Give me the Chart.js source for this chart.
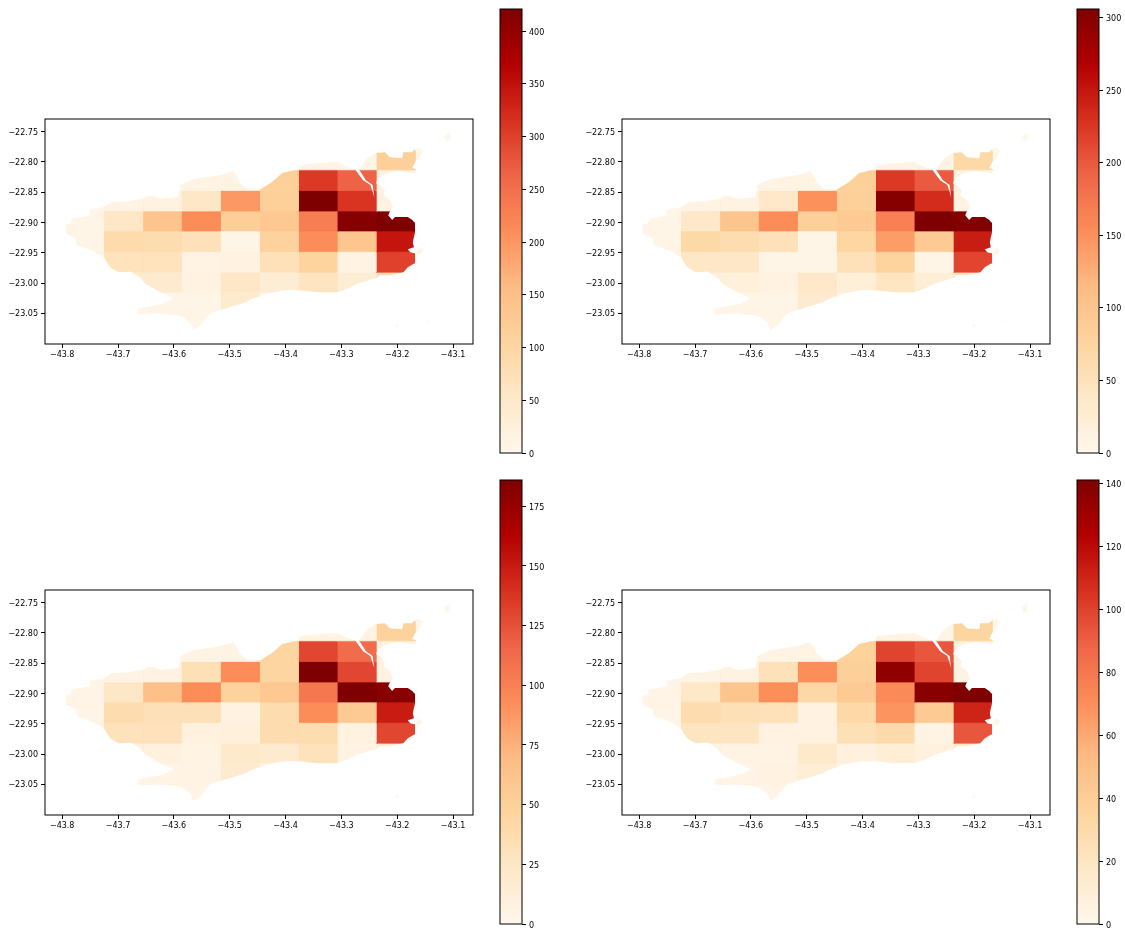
<!DOCTYPE html>
<html>
<head>
<meta charset="utf-8">
<script src="https://cdn.jsdelivr.net/npm/chart.js@4/dist/chart.umd.min.js"></script>
<style>
  body { margin: 0; background: #fff; }
  canvas { position: absolute; }
  .box { position: absolute; }
</style>
</head>
<body>
<script>
// grid cell edges, degrees
var cellLon = [-43.796, -43.726, -43.656, -43.587, -43.517, -43.447, -43.377, -43.308, -43.238, -43.168, -43.098];
var cellLat = [-22.746, -22.780, -22.813, -22.847, -22.881, -22.914, -22.948, -22.982, -23.015, -23.049, -23.083];

var xTicks = [-43.8, -43.7, -43.6, -43.5, -43.4, -43.3, -43.2, -43.1];
var yTicks = [-22.75, -22.80, -22.85, -22.90, -22.95, -23.00, -23.05];

// city outline
var landLon = [-43.794,-43.785,-43.782,-43.764,-43.751,-43.751,-43.728,-43.710,-43.683,-43.656,-43.647,-43.638,-43.624,-43.592,-43.588,-43.565,-43.517,-43.494,-43.486,-43.481,-43.467,-43.445,-43.424,-43.406,-43.377,-43.374,-43.343,-43.308,-43.290,-43.275,-43.261,-43.248,-43.241,-43.244,-43.256,-43.268,-43.265,-43.254,-43.238,-43.222,-43.213,-43.191,-43.189,-43.173,-43.168,-43.159,-43.154,-43.159,-43.168,-43.173,-43.164,-43.168,-43.198,-43.218,-43.234,-43.238,-43.231,-43.222,-43.225,-43.213,-43.207,-43.213,-43.216,-43.209,-43.204,-43.181,-43.173,-43.168,-43.168,-43.172,-43.170,-43.181,-43.177,-43.168,-43.168,-43.181,-43.189,-43.213,-43.231,-43.238,-43.254,-43.272,-43.288,-43.308,-43.343,-43.374,-43.404,-43.433,-43.463,-43.472,-43.508,-43.535,-43.549,-43.565,-43.570,-43.588,-43.630,-43.664,-43.665,-43.619,-43.601,-43.624,-43.651,-43.660,-43.678,-43.699,-43.714,-43.726,-43.746,-43.773,-43.776,-43.794];
var landLat = [-22.904,-22.901,-22.893,-22.891,-22.888,-22.878,-22.875,-22.866,-22.865,-22.861,-22.856,-22.856,-22.861,-22.858,-22.838,-22.828,-22.822,-22.815,-22.825,-22.835,-22.845,-22.845,-22.833,-22.818,-22.812,-22.805,-22.802,-22.800,-22.808,-22.813,-22.830,-22.838,-22.858,-22.838,-22.830,-22.813,-22.808,-22.794,-22.785,-22.784,-22.792,-22.794,-22.784,-22.784,-22.777,-22.777,-22.782,-22.792,-22.800,-22.810,-22.813,-22.818,-22.815,-22.818,-22.827,-22.835,-22.838,-22.847,-22.855,-22.863,-22.875,-22.881,-22.888,-22.896,-22.891,-22.891,-22.896,-22.901,-22.914,-22.933,-22.941,-22.944,-22.949,-22.951,-22.967,-22.974,-22.982,-22.987,-22.987,-22.992,-22.996,-23.001,-23.009,-23.015,-23.015,-23.012,-23.012,-23.017,-23.027,-23.032,-23.042,-23.050,-23.067,-23.078,-23.065,-23.054,-23.050,-23.052,-23.042,-23.034,-23.025,-23.015,-23.001,-22.991,-22.981,-22.982,-22.974,-22.957,-22.946,-22.938,-22.926,-22.918];

// small islands
var isleLon = [[-43.116,-43.105,-43.105,-43.112], [-43.164,-43.154,-43.156,-43.166], [-43.203,-43.198,-43.198,-43.203], [-43.147,-43.142,-43.143]];
var isleLat = [[-22.758,-22.751,-22.764,-22.766], [-22.941,-22.944,-22.951,-22.953], [-23.068,-23.068,-23.073,-23.073], [-23.060,-23.062,-23.066]];

// counts per cell, row by row from the north
var valuesA = [
  [0,0,0,0,0,0,0,0,0,2],
  [0,0,0,0,0,0,13,10,114,3],
  [0,0,0,13,13,113,307,265,17,4],
  [4,13,17,55,198,114,421,312,17,0],
  [8,55,139,211,118,131,232,413,421,0],
  [8,88,84,72,8,109,210,135,345,2],
  [8,67,67,13,17,72,105,13,299,2],
  [0,42,42,17,55,34,63,34,84,0],
  [0,8,8,8,46,13,0,0,0,0],
  [0,0,8,8,0,0,0,0,0,1]
];
var valuesB = [
  [0,0,0,0,0,0,0,0,0,1],
  [0,0,0,0,0,0,9,8,67,2],
  [0,0,0,9,9,83,223,199,12,3],
  [3,9,12,37,150,83,300,233,12,0],
  [6,37,100,153,83,92,165,306,304,0],
  [6,67,61,52,6,73,140,92,245,1],
  [6,40,40,6,6,52,77,6,214,1],
  [0,18,18,12,37,21,43,24,46,0],
  [0,6,6,6,31,9,0,0,0,0],
  [0,0,6,6,0,0,0,0,0,1]
];
var valuesC = [
  [0,0,0,0,0,0,0,0,0,1],
  [0,0,0,0,0,0,6,5,47,1],
  [0,0,0,6,6,45,130,112,7,2],
  [2,6,7,33,93,45,186,130,7,0],
  [4,24,65,93,48,58,106,186,182,0],
  [4,37,32,32,7,37,93,56,149,1],
  [4,30,30,9,11,37,37,7,130,1],
  [0,9,9,6,22,19,30,6,19,0],
  [0,4,4,6,19,6,0,0,0,0],
  [0,0,4,4,0,0,0,0,0,1]
];
var valuesD = [
  [0,0,0,0,0,0,0,0,0,1],
  [0,0,0,0,0,0,4,3,34,1],
  [0,0,0,4,4,37,99,93,6,1],
  [1,4,6,24,70,38,135,99,6,0],
  [3,18,46,70,32,42,72,138,141,0],
  [3,28,25,24,6,31,68,42,110,1],
  [3,20,20,6,6,25,30,4,93,1],
  [0,4,4,4,16,7,11,7,17,0],
  [0,3,3,6,11,4,0,0,0,0],
  [0,0,3,3,0,0,0,0,0,1]
];

// colorbar ranges
var maxA = 421, maxB = 306, maxC = 186, maxD = 141;
var barTicksA = [0, 50, 100, 150, 200, 250, 300, 350, 400];
var barTicksB = [0, 50, 100, 150, 200, 250, 300];
var barTicksC = [0, 25, 50, 75, 100, 125, 150, 175];
var barTicksD = [0, 20, 40, 60, 80, 100, 120, 140];

var orRd = [[255,247,236],[254,232,200],[253,212,158],[253,187,132],[252,141,89],[239,101,72],[215,48,31],[179,0,0],[127,0,0]];

function colorAt(t) {
  var p = Math.min(t, 1) * (orRd.length - 1);
  var i = Math.min(Math.floor(p), orRd.length - 2);
  var f = p - i, a = orRd[i], b = orRd[i + 1];
  return 'rgb(' + Math.round(a[0] + (b[0] - a[0]) * f) + ',' + Math.round(a[1] + (b[1] - a[1]) * f) + ',' + Math.round(a[2] + (b[2] - a[2]) * f) + ')';
}

function addCanvas(left, top, w, h) {
  var box = document.createElement('div');
  box.className = 'box';
  box.style.cssText = 'left:' + left + 'px;top:' + top + 'px;width:' + w + 'px;height:' + h + 'px';
  var c = document.createElement('canvas');
  box.appendChild(c);
  document.body.appendChild(box);
  return c;
}

function minus(s) { return String(s).replace('-', '\u2212'); }

var frame = {
  id: 'frame',
  afterDatasetsDraw: function(chart) {
    var a = chart.chartArea, ctx = chart.ctx;
    ctx.save();
    ctx.strokeStyle = '#000';
    ctx.lineWidth = 1;
    ctx.strokeRect(a.left, a.top, a.right - a.left, a.bottom - a.top);
    ctx.restore();
  }
};

// clips the cell datasets to the land shape
var landClip = {
  id: 'landClip',
  beforeDatasetsDraw: function(chart) {
    var ctx = chart.ctx, sx = chart.scales.x, sy = chart.scales.y;
    function trace(lons, lats) {
      for (var i = 0; i < lons.length; i++) {
        var px = sx.getPixelForValue(lons[i]), py = sy.getPixelForValue(lats[i]);
        if (i == 0) ctx.moveTo(px, py); else ctx.lineTo(px, py);
      }
      ctx.closePath();
    }
    ctx.save();
    ctx.beginPath();
    trace(landLon, landLat);
    for (var k = 0; k < isleLon.length; k++) trace(isleLon[k], isleLat[k]);
    ctx.clip();
  },
  afterDatasetsDraw: function(chart) {
    chart.ctx.restore();
  }
};

var tickFont = { family: 'DejaVu Sans', size: 8 };

function drawMap(left, top, values, vmax) {
  var datasets = [];
  for (var r = 0; r < values.length; r++) {
    for (var c = 0; c < values[r].length; c++) {
      var col = colorAt(values[r][c] / vmax);
      datasets.push({
        data: [
          { x: cellLon[c], y: cellLat[r] },
          { x: cellLon[c + 1], y: cellLat[r] },
          { x: cellLon[c + 1], y: cellLat[r + 1] },
          { x: cellLon[c], y: cellLat[r + 1] },
          { x: cellLon[c], y: cellLat[r] }
        ],
        showLine: true,
        fill: 'shape',
        backgroundColor: col,
        borderColor: col,
        borderWidth: 0.7,
        pointRadius: 0,
        tension: 0
      });
    }
  }
  new Chart(addCanvas(left, top, 478, 260), {
    type: 'scatter',
    data: { datasets: datasets },
    plugins: [landClip, frame],
    options: {
      responsive: true,
      maintainAspectRatio: false,
      animation: false,
      layout: { padding: { top: 10, right: 5 } },
      plugins: { legend: { display: false }, tooltip: { enabled: false } },
      scales: {
        x: {
          type: 'linear', min: -43.8308, max: -43.0642,
          afterBuildTicks: function(s) { s.ticks = xTicks.map(function(v) { return { value: v }; }); },
          afterFit: function(s) { s.height = 25; },
          grid: { drawOnChartArea: false, tickColor: '#000', tickLength: 4, tickWidth: 1 },
          border: { display: false },
          ticks: { color: '#000', font: tickFont, padding: 2, maxRotation: 0, autoSkip: false,
            callback: function(v) { return minus(v.toFixed(1)); } }
        },
        y: {
          type: 'linear', min: -23.1006, max: -22.729,
          afterBuildTicks: function(s) { s.ticks = yTicks.map(function(v) { return { value: v }; }); },
          afterFit: function(s) { s.width = 45; },
          grid: { drawOnChartArea: false, tickColor: '#000', tickLength: 4, tickWidth: 1 },
          border: { display: false },
          ticks: { color: '#000', font: tickFont, padding: 3, labelOffset: 1, autoSkip: false,
            callback: function(v) { return minus(v.toFixed(2)); } }
        }
      }
    }
  });
}

function drawBar(left, top, barTicks, vmax) {
  new Chart(addCanvas(left, top, 60, 463), {
    type: 'bar',
    data: {
      labels: [''],
      datasets: [{
        data: [vmax],
        barPercentage: 1,
        categoryPercentage: 1,
        backgroundColor: function(context) {
          var a = context.chart.chartArea;
          if (!a) return '#fff';
          var g = context.chart.ctx.createLinearGradient(0, a.bottom, 0, a.top);
          for (var i = 0; i < orRd.length; i++) g.addColorStop(i / (orRd.length - 1), colorAt(i / (orRd.length - 1)));
          return g;
        }
      }]
    },
    plugins: [frame],
    options: {
      responsive: true,
      maintainAspectRatio: false,
      animation: false,
      layout: { padding: { left: 10, top: 9, bottom: 10 } },
      plugins: { legend: { display: false }, tooltip: { enabled: false } },
      scales: {
        x: { display: false },
        y: {
          position: 'right', min: 0, max: vmax,
          afterBuildTicks: function(s) { s.ticks = barTicks.map(function(v) { return { value: v }; }); },
          afterFit: function(s) { s.width = 28; },
          grid: { drawOnChartArea: false, tickColor: '#000', tickLength: 4, tickWidth: 1 },
          border: { display: false },
          ticks: { color: '#000', font: tickFont, padding: 3, labelOffset: 1.5, autoSkip: false }
        }
      }
    }
  });
}

drawMap(0, 109, valuesA, maxA);
drawBar(490, 0, barTicksA, maxA);
drawMap(577, 109, valuesB, maxB);
drawBar(1067, 0, barTicksB, maxB);
drawMap(0, 580, valuesC, maxC);
drawBar(490, 471, barTicksC, maxC);
drawMap(577, 580, valuesD, maxD);
drawBar(1067, 471, barTicksD, maxD);
</script>
</body>
</html>
